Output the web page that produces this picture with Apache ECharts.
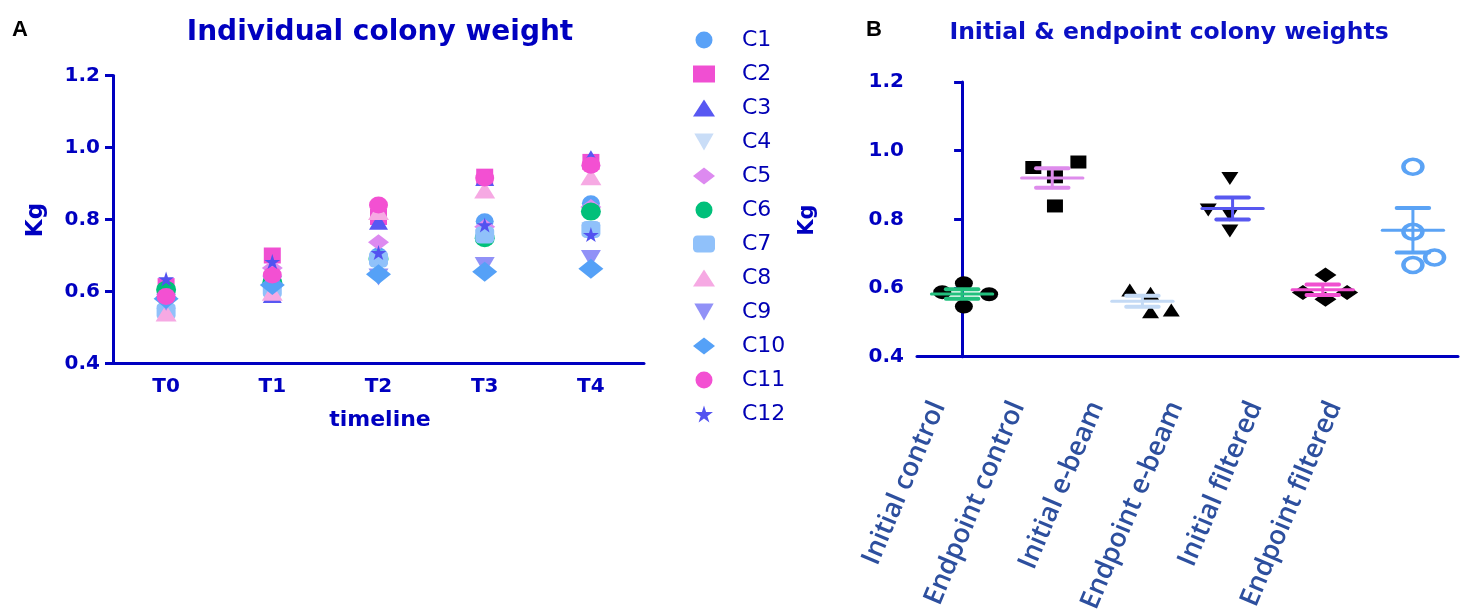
<!DOCTYPE html>
<html>
<head>
<meta charset="utf-8">
<script src="https://cdn.jsdelivr.net/npm/echarts@6/dist/echarts.min.js"></script>
<style>
html,body{margin:0;padding:0;background:#fff;}
#main{width:1466px;height:610px;}
</style>
</head>
<body>
<div id="main"></div>
<script>
// ---------- Panel A data ----------
const timeline = ['T0', 'T1', 'T2', 'T3', 'T4'];
const colonyNames = ['C1','C2','C3','C4','C5','C6','C7','C8','C9','C10','C11','C12'];
const C1  = [0.590, 0.630, 0.700, 0.795, 0.845];
const C2  = [0.615, 0.700, 0.807, 0.919, 0.960];
const C3  = [0.575, 0.590, 0.794, 0.915, 0.970];
const C4  = [0.565, 0.610, 0.680, 0.750, 0.770];
const C5  = [0.585, 0.665, 0.737, 0.780, 0.835];
const C6  = [0.605, 0.625, 0.690, 0.748, 0.822];
const C7  = [0.545, 0.605, 0.690, 0.757, 0.772];
const C8  = [0.540, 0.598, 0.822, 0.882, 0.919];
const C9  = [0.570, 0.620, 0.640, 0.672, 0.692];
const C10 = [0.580, 0.618, 0.648, 0.655, 0.663];
const C11 = [0.586, 0.646, 0.840, 0.915, 0.951];
const C12 = [0.635, 0.683, 0.708, 0.785, 0.758];
const colonyValues = [C1,C2,C3,C4,C5,C6,C7,C8,C9,C10,C11,C12];

// ---------- Panel B data ----------
const groupNames = ['Initial control','Endpoint control','Initial e-beam','Endpoint e-beam','Initial filtered','Endpoint filtered'];
const initialControl   = [0.588, 0.614, 0.582, 0.546];
const endpointControl  = [0.951, 0.967, 0.924, 0.839];
const initialEbeam     = [0.594, 0.585, 0.531, 0.536];
const endpointEbeam    = [0.919, 0.827, 0.813, 0.766];
const initialFiltered  = [0.638, 0.587, 0.587, 0.567];
const endpointFiltered = [0.953, 0.764, 0.689, 0.667];
const groupValues = [initialControl, endpointControl, initialEbeam, endpointEbeam, initialFiltered, endpointFiltered];
// horizontal scatter spread of the points inside each column (column units)
const spread = [
  [-0.22, 0.02, 0.30, 0.02],
  [-0.21, 0.29, 0.03, 0.03],
  [-0.14, 0.09, 0.09, 0.32],
  [-0.03, -0.27, -0.03, -0.03],
  [0.03, -0.22, 0.27, 0.03],
  [0.0, 0.0, 0.24, 0.0]
];
const groupIndex = [0, 1, 2, 3, 4, 5];

// ---------- styles ----------
const AXIS = '#0000c0';
const star = 'path://M50,0 L61,35 L98,35 L68,57 L79,91 L50,70 L21,91 L32,57 L2,35 L39,35 Z';
const downTri = 'path://M0,0 L100,0 L50,88 Z';
const stylesA = [
  {symbol:'circle',   color:'#5aa2f7', size:[18,16]},
  {symbol:'rect',     color:'#f04fd2', size:[17,16]},
  {symbol:'triangle', color:'#5858f2', size:[19,16]},
  {symbol:downTri,    color:'#c9ddf7', size:[19,16]},
  {symbol:'diamond',  color:'#dd8af0', size:[21,16]},
  {symbol:'circle',   color:'#00c07a', size:[20,18]},
  {symbol:'roundRect',color:'#90c1fa', size:[19,17]},
  {symbol:'triangle', color:'#f6a9e3', size:[21,17]},
  {symbol:downTri,    color:'#9191f7', size:[20,17]},
  {symbol:'diamond',  color:'#55a1f7', size:[25,20]},
  {symbol:'circle',   color:'#f350d2', size:[19,17]},
  {symbol:star,       color:'#5252f0', size:[16,15]}
];
const stylesB = [
  {symbol:'circle',   size:[18,14], line:'#22c07e'},
  {symbol:'rect',     size:[16,13], line:'#de8cec'},
  {symbol:'triangle', size:[17,13], line:'#c4daf5'},
  {symbol:downTri,    size:[17,13], line:'#5858f0'},
  {symbol:'diamond',  size:[22,15], line:'#f050d0'},
  {symbol:'circle',   size:[19,15], line:'#5ba3f5', open:true}
];

function mean(a){ return a.reduce((s,v)=>s+v,0)/a.length; }
function sem(a){ const m=mean(a); const v=a.reduce((s,x)=>s+(x-m)*(x-m),0)/(a.length-1); return Math.sqrt(v/a.length); }

const chart = echarts.init(document.getElementById('main'));

const seriesA = colonyNames.map((name, i) => ({
  name: name, type: 'scatter', xAxisIndex: 0, yAxisIndex: 0,
  symbol: stylesA[i].symbol, symbolSize: stylesA[i].size,
  itemStyle: {color: stylesA[i].color, opacity: 1},
  data: colonyValues[i], z: 2 + i
}));

const seriesBPoints = groupValues.map((vals, g) => ({
  name: groupNames[g], type: 'scatter', xAxisIndex: 2, yAxisIndex: 1,
  symbol: stylesB[g].symbol, symbolSize: stylesB[g].size,
  itemStyle: stylesB[g].open ? {color: 'rgba(0,0,0,0)', borderColor: stylesB[g].line, borderWidth: 4, opacity: 1} : {color: '#000', opacity: 1},
  data: vals.map((v, k) => [g + spread[g][k], v]),
  z: 3
}));

const statsData = groupValues.map((vals, g) => {
  const m = mean(vals), s = sem(vals);
  return [g, m, m - s, m + s];
});

const seriesBStats = {
  type: 'custom', xAxisIndex: 2, yAxisIndex: 1, z: 5,
  data: statsData,
  renderItem: function(params, api) {
    const x = api.value(0), m = api.value(1), lo = api.value(2), hi = api.value(3);
    const col = stylesB[params.dataIndex].line;
    const p = (a, b) => api.coord([a, b]);
    const ln = (a, b, w) => ({type:'line', shape:{x1:a[0], y1:a[1], x2:b[0], y2:b[1]}, style:{stroke: col, lineWidth: w, lineCap:'round'}});
    return {type:'group', children:[
      ln(p(x, lo), p(x, hi), 3),
      ln(p(x - 0.18, hi), p(x + 0.18, hi), 4),
      ln(p(x - 0.18, lo), p(x + 0.18, lo), 4),
      ln(p(x - 0.34, m), p(x + 0.34, m), 3)
    ]};
  }
};

const tickLabelStyle = {color: AXIS, fontFamily: 'DejaVu Sans', fontWeight: 'bold', fontSize: 20};

const option = {
  animation: false,
  backgroundColor: '#fff',
  grid: [
    {left: 113, top: 75.5, width: 531, height: 288, outerBoundsMode: 'none'},
    {left: 917, top: 82, width: 541, height: 274.7, outerBoundsMode: 'none'}
  ],
  legend: {
    orient: 'vertical', left: 688, top: 24,
    itemWidth: 22, itemHeight: 17, itemGap: 12,
    data: colonyNames,
    textStyle: {fontSize: 22, lineHeight: 22, color: '#0000b4', fontFamily: 'DejaVu Sans', padding: [0, 0, 0, 22]}
  },
  xAxis: [
    {type: 'category', gridIndex: 0, data: timeline, boundaryGap: true,
     axisLine: {lineStyle: {color: AXIS, width: 3}},
     axisTick: {alignWithLabel: true, length: 8, lineStyle: {color: AXIS, width: 3}},
     axisLabel: Object.assign({margin: 13}, tickLabelStyle),
     splitLine: {show: false}},
    {type: 'category', gridIndex: 1, data: groupNames, boundaryGap: true,
     axisLine: {lineStyle: {color: AXIS, width: 3}},
     axisTick: {alignWithLabel: true, length: 8, lineStyle: {color: AXIS, width: 3}},
     axisLabel: {show: false},
     splitLine: {show: false}},
    {type: 'value', gridIndex: 1, min: -0.5, max: 5.5, show: false, position: 'bottom'},
    // label-only axis: the reference's slanted group labels are packed slightly tighter than the columns
    {type: 'value', gridIndex: 1, min: -0.27, max: 6.56, position: 'bottom',
     axisLine: {show: false}, axisTick: {show: false}, splitLine: {show: false},
     axisLabel: {customValues: groupIndex, formatter: v => groupNames[Math.round(v)] || '',
       rotate: 67, margin: 46, color: '#2d4f9e', fontFamily: 'Open Sans', fontWeight: 600, fontSize: 27}}
  ],
  yAxis: [
    {type: 'value', gridIndex: 0, min: 0.4, max: 1.2, interval: 0.2,
     axisLine: {show: true, lineStyle: {color: AXIS, width: 3}},
     axisTick: {show: true, length: 8, lineStyle: {color: AXIS, width: 3}},
     axisLabel: Object.assign({margin: 13, formatter: v => v.toFixed(1)}, tickLabelStyle),
     splitLine: {show: false}},
    {type: 'value', gridIndex: 1, min: 0.4, max: 1.2, interval: 0.2,
     axisLine: {show: true, lineStyle: {color: AXIS, width: 3}},
     axisTick: {show: true, length: 8, lineStyle: {color: AXIS, width: 3}},
     axisLabel: Object.assign({margin: 13, formatter: v => v.toFixed(1)}, tickLabelStyle),
     splitLine: {show: false}}
  ],
  graphic: [
    {type:'text', x: 12, y: 30, style:{text:'A', fill:'#000', font:'bold 22px "Liberation Sans"', verticalAlign:'middle'}},
    {type:'text', x: 866, y: 30, style:{text:'B', fill:'#000', font:'bold 22px "Liberation Sans"', verticalAlign:'middle'}},
    {type:'text', x: 380, y: 33, style:{text:'Individual colony weight', fill:AXIS, font:'bold 28px "DejaVu Sans"', align:'center', verticalAlign:'middle'}},
    {type:'text', x: 1169, y: 33, style:{text:'Initial & endpoint colony weights', fill:'#0a10c4', font:'bold 23.5px "DejaVu Sans"', align:'center', verticalAlign:'middle'}},
    {type:'text', x: 36, y: 220, rotation: Math.PI/2, style:{text:'Kg', fill:AXIS, font:'bold 23px "DejaVu Sans"', align:'center', verticalAlign:'middle'}},
    {type:'text', x: 808, y: 220, rotation: Math.PI/2, style:{text:'Kg', fill:AXIS, font:'bold 21px "DejaVu Sans"', align:'center', verticalAlign:'middle'}},
    {type:'text', x: 380, y: 420, style:{text:'timeline', fill:AXIS, font:'bold 22px "DejaVu Sans"', align:'center', verticalAlign:'middle'}}
  ],
  series: seriesA.concat(seriesBPoints, [seriesBStats])
};
chart.setOption(option);
</script>
</body>
</html>
